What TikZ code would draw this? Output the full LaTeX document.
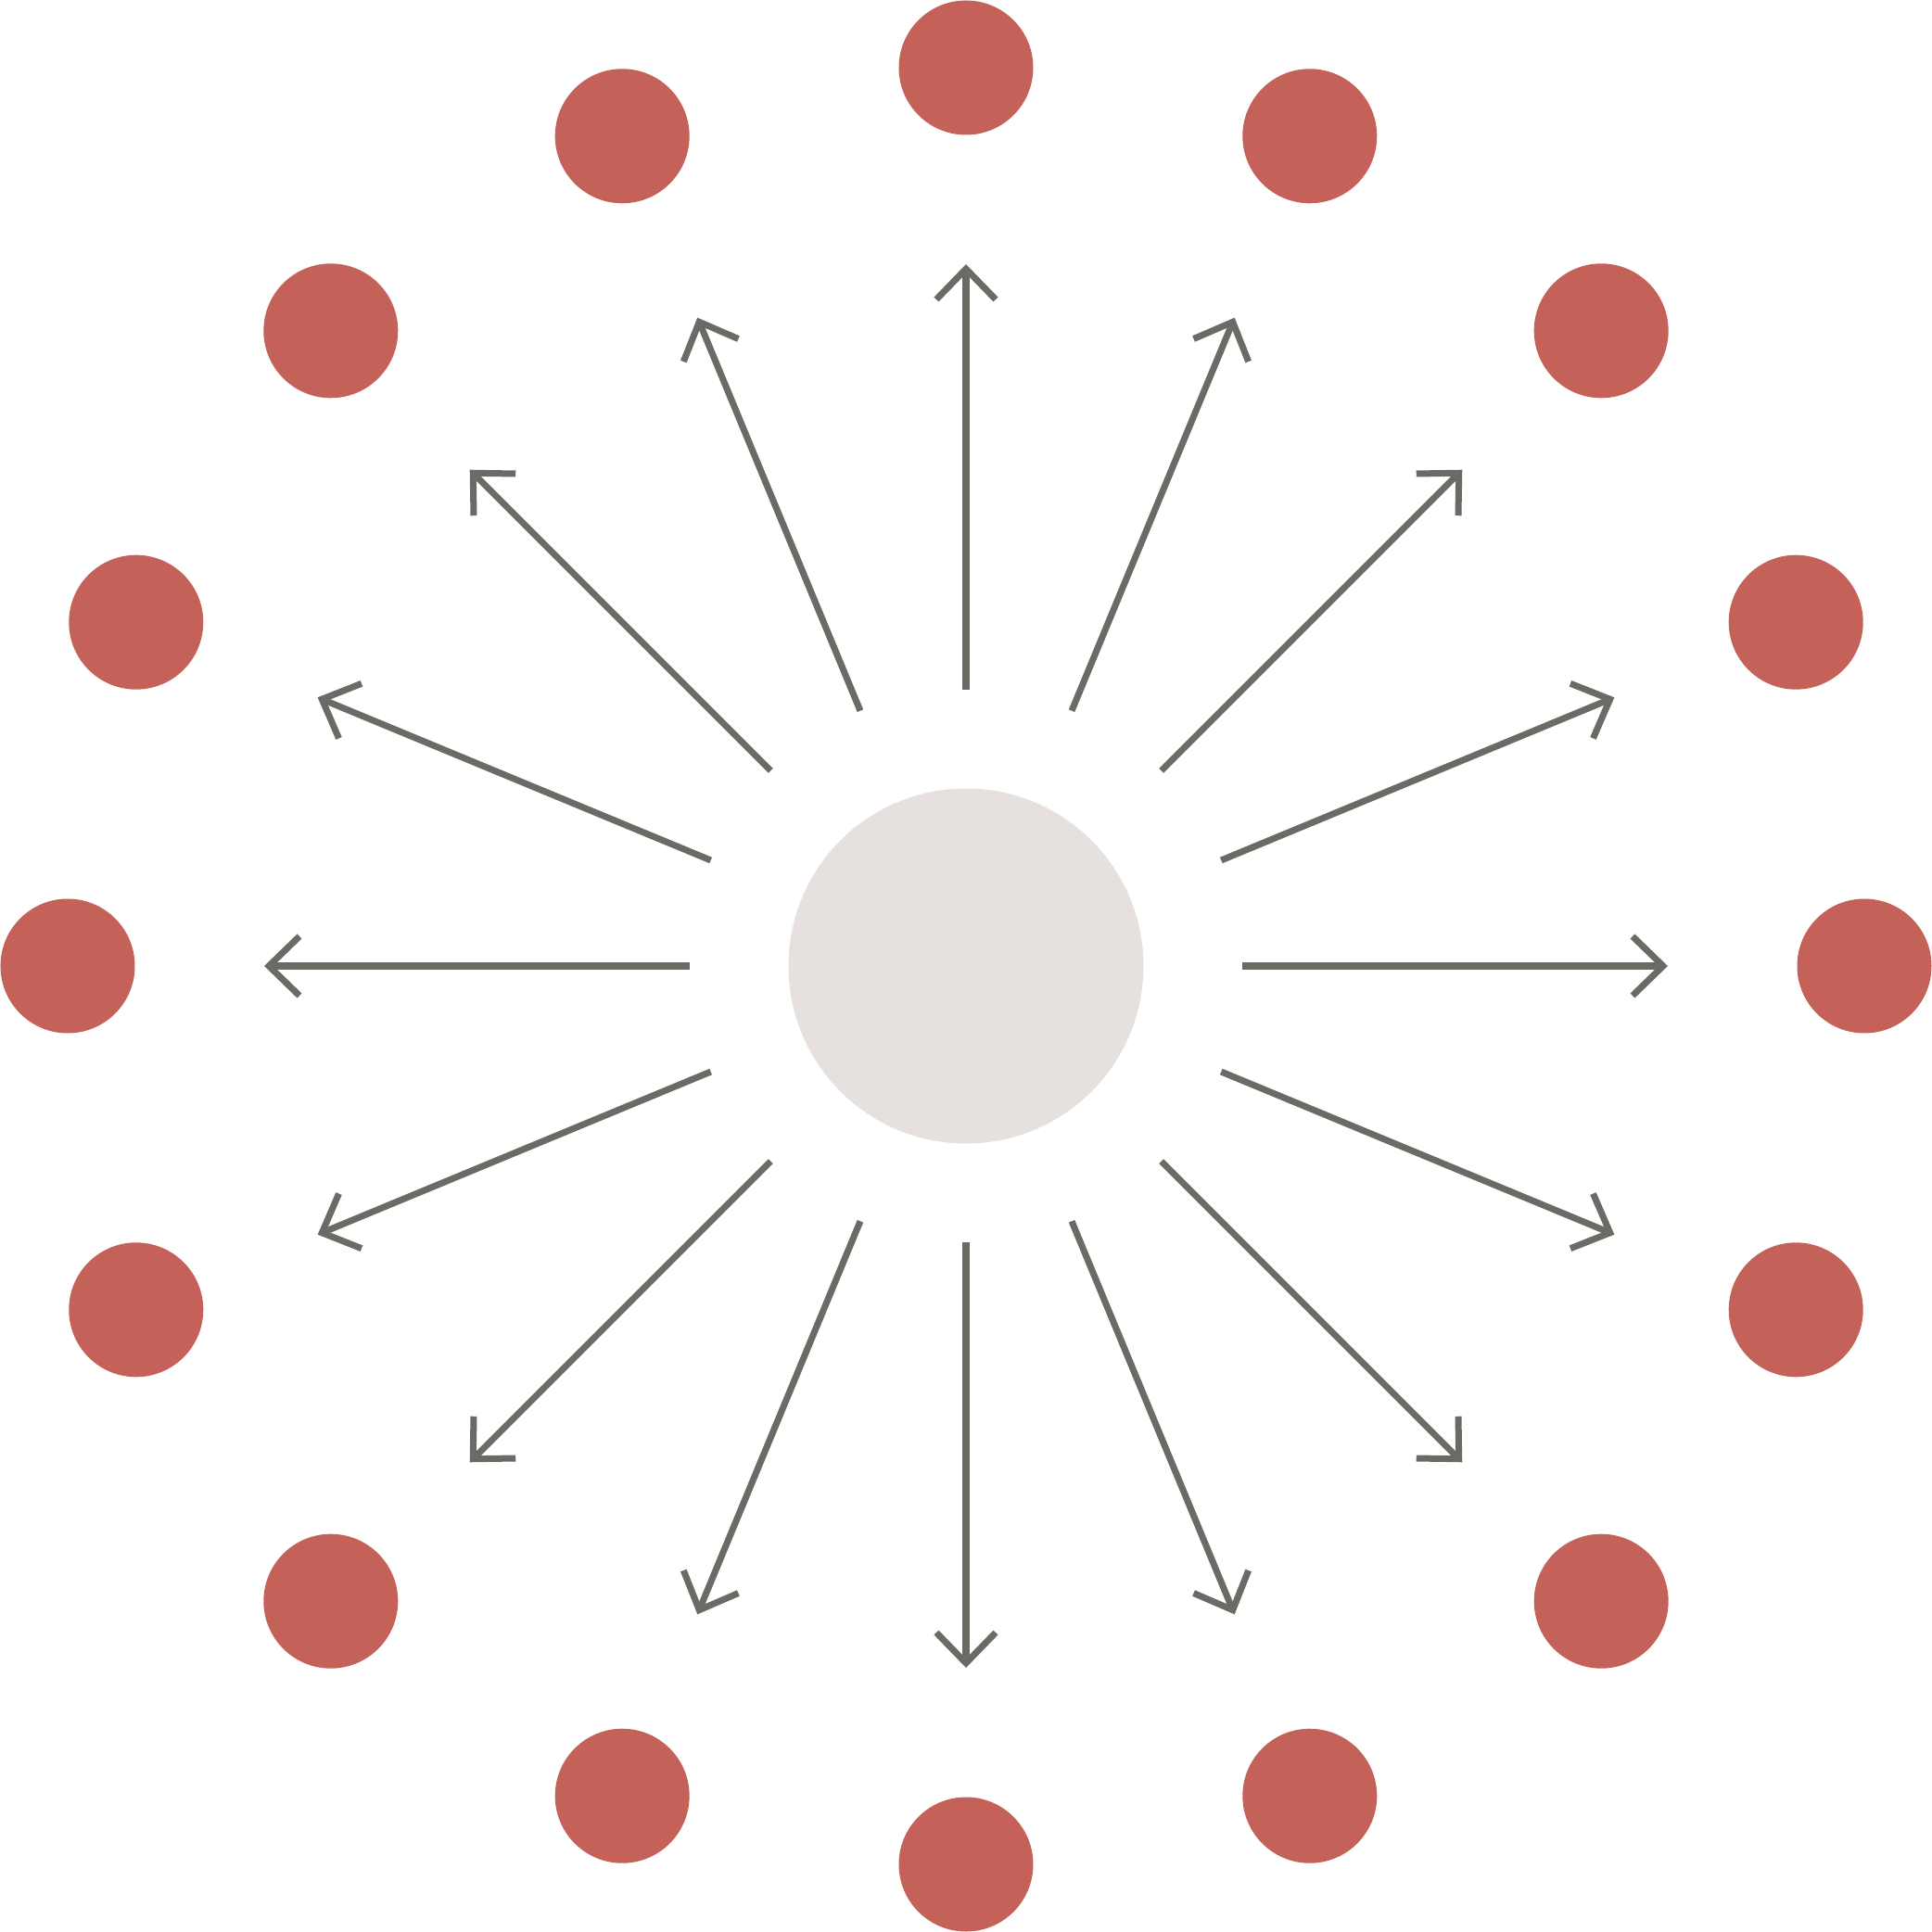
\documentclass[tikz,border=0pt]{standalone}
\usepackage{tikz}
\usetikzlibrary{arrows.meta}
\definecolor{dotred}{HTML}{C4625A}
\definecolor{raygrey}{HTML}{6B6B66}
\definecolor{hubgrey}{HTML}{E6E1DF}
\tikzset{
    dot/.style={circle, fill=dotred, minimum size=1.45cm, inner sep=0pt},
    hubdisc/.style={circle, fill=hubgrey, minimum size=3.83cm, inner sep=0pt},
    ray/.style={draw=raygrey, line width=0.07cm, ->},
}
\begin{document}
\begin{tikzpicture}[>={Straight Barb[length=0.33cm, width=0.64cm, sharp]}]
    \useasboundingbox (-10.42,-10.42) rectangle (10.42,10.42);
    
    % Central disc
    \node[hubdisc] (hub) at (0,0) {};
    
    % Outer dots and rays, every 22.5 deg
    \foreach \i in {0,...,15} {
        \pgfmathsetmacro{\ang}{22.5*\i}
        \node[dot] (p\i) at (\ang:9.69) {};
        \coordinate (s\i) at (\ang:2.98);
        \coordinate (e\i) at (\ang:7.57);
        \draw[ray] (s\i) -- (e\i);
    }
\end{tikzpicture}
\end{document}
